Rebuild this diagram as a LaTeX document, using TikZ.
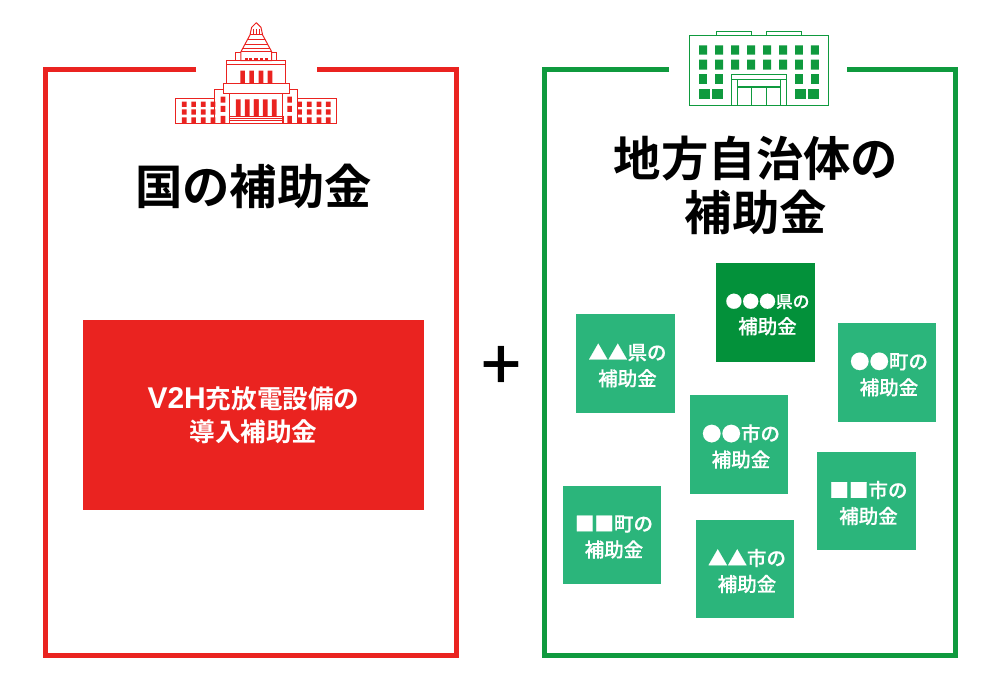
\documentclass[tikz,border=0pt]{standalone}
\usepackage{fontspec}
\setmainfont{Noto Sans CJK JP}[BoldFont={Noto Sans CJK JP Bold}]
\newfontfamily\mediumfont{Noto Sans CJK JP Medium}[FakeBold=.5]
\newfontfamily\plusfont{Noto Sans CJK JP Medium}
\newfontfamily\latinfont{Liberation Sans}
\usetikzlibrary{positioning}
\definecolor{natred}{HTML}{EA2320}
\definecolor{locgreen}{HTML}{0F9A3E}
\definecolor{prefgreen}{HTML}{03913A}
\definecolor{citygreen}{HTML}{2BB57B}
\newcommand{\hojokin}{補助金}

\begin{document}
\begin{tikzpicture}[
    x=1pt,
    y=-1pt,
    on grid,
    title node/.style={font=\fontsize{47.4}{54}\selectfont\bfseries,align=center,text=black,inner sep=0pt},
    grant text/.style={text=white,inner sep=0pt,align=center,xshift=2pt,yshift=-2pt,font=\mediumfont\fontsize{19.5}{26}\selectfont},
    grant box/.style={fill=citygreen,minimum size=98.5pt,inner sep=0pt,label={[grant text]center:#1\\\hojokin}},
    pref box/.style={grant box={#1},fill=prefgreen},
    frame line/.style={line width=5pt,line cap=butt},
    icon line/.style={line width=1pt}
    ]
    \useasboundingbox (0,0) rectangle (1000,693);

    % frames
    \draw[frame line,natred] (196,69.8) -- (45,69.8) -- (45,655.5) -- (456.5,655.5) -- (456.5,69.8) -- (317,69.8);
    \draw[frame line,locgreen] (669,69.8) -- (544,69.8) -- (544,655.5) -- (955.5,655.5) -- (955.5,69.8) -- (847,69.8);

    % national side
    \node[title node] (natTitle) at (253.5,186) {国の\hojokin};
    \node[fill=natred,text=white,minimum width=341pt,minimum height=190pt,inner sep=0pt,align=center,
      font=\fontsize{25.6}{33}\selectfont\bfseries] (natBox) [below=229pt of natTitle] {{\latinfont\fontsize{30}{33}\selectfont V2H}充放電設備の\\導入\hojokin};
    \node[font=\plusfont\fontsize{70}{70}\selectfont,inner sep=0pt] (plus) at (501,368) {+};

    % local side
    \node[title node] (locTitle) at (756,185) {地方自治体の\\\hojokin};
    \node[pref box={\fontsize{16.8}{26}\selectfont ●●●県の}] (1) at (765.5,312.5) {};
    \node[grant box={▲▲県の}] (2) [below left=51pt and 140pt of 1] {};
    \node[grant box={●●町の}] (3) [below right=60pt and 121.5pt of 1] {};
    \node[grant box={●●市の}] (4) [below left=132pt and 26.5pt of 1] {};
    \node[grant box={■■市の}] (5) [below right=188.5pt and 101pt of 1] {};
    \node[grant box={■■町の}] (6) [below left=222.5pt and 153.5pt of 1] {};
    \node[grant box={▲▲市の}] (7) [below left=256.5pt and 20.5pt of 1] {};

    % diet building
    \begin{scope}[shift={(256.3,10)},x=.3333pt,y=-.3333pt,natred,icon line]
      \foreach \s in {1,-1} {
        \begin{scope}[xscale=\s]
          \draw (0,38) -- (14,52) -- (19,75) -- (46,125) -- (46,152) -- (0,152);
          \draw (-19,75) -- (19,75) (0,90) -- (27,90) (0,103) -- (34,103) (0,115) -- (40,115) (0,125) -- (46,125);
          \draw (46,128) -- (62,128) -- (62,152);
          \draw (0,152) -- (88,152) -- (88,222) -- (99,222) -- (99,252) -- (0,252);
          \draw (0,222) -- (88,222) (0,165) -- (88,165);
          \draw (99,238) -- (124,238) -- (124,265) -- (241,265) -- (241,340) -- (0,340);
          \draw (79,252) -- (79,340) (0,320) -- (81,320) -- (81,340) (0,327) -- (81,327) (0,333) -- (81,333);
          \draw (124,265) -- (124,340);
          \fill (7,182) rectangle (21,222) (34,182) rectangle (48,222);
          \fill (-7,268) rectangle (7,320) (20,268) rectangle (34,320) (47,268) rectangle (61,320);
          \fill (93,260) rectangle (107,278) (93,288) rectangle (107,306) (93,318) rectangle (107,340);
          \foreach \wx in {123,152,181,209} {
            \fill (\wx,275) rectangle ++(14,16) (\wx,298) rectangle ++(14,16) (\wx,322) rectangle ++(14,18);
          }
          \foreach \cx in {-2,7} {
            \fill (\cx+1,58) rectangle ++(3,17);
          }
          \foreach \dx in {-4,11,24} {
            \fill (\dx+1,143) rectangle ++(9,9);
          }
        \end{scope}
      }
    \end{scope}

    % office building
    \begin{scope}[shift={(670,20)},x=.3333pt,y=-.3333pt,locgreen,icon line]
      \draw (58,46) rectangle (475,258);
      \draw (140,46) -- (140,34) -- (245,34) -- (245,46);
      \draw (290,46) -- (290,34) -- (396,34) -- (396,46);
      \foreach \wx in {87,135,183,231,279,327,375,423} {
        \fill (\wx,76) rectangle ++(24,28) (\wx,119) rectangle ++(24,30);
      }
      \foreach \wx in {87,135,375,423} {
        \fill (\wx,163) rectangle ++(24,29);
      }
      \foreach \wx in {87,126,375,414} {
        \fill (\wx,206) rectangle ++(34,30);
      }
      \draw (184,258) -- (184,164) -- (350,164) -- (350,258) (184,178) -- (350,178);
      \draw (203,258) -- (203,178) (331,258) -- (331,178) (203,200) -- (331,200) (203,204) -- (331,204);
      \draw (245,204) -- (245,258) (289,204) -- (289,258);
    \end{scope}
  \end{tikzpicture}
\end{document}
